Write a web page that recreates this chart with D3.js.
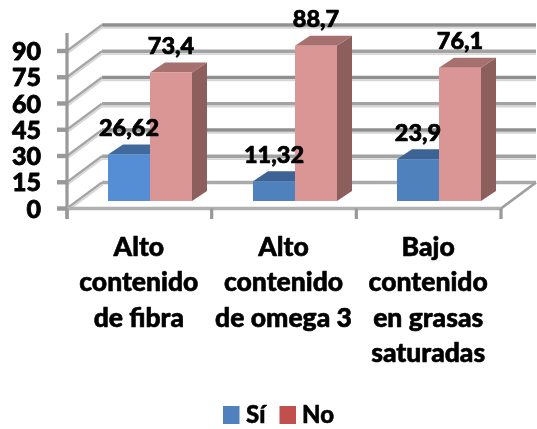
<!DOCTYPE html>
<html><head><meta charset="utf-8">
<style>html,body{margin:0;background:#fff}svg{display:block}text{stroke:#000;stroke-linejoin:round}</style>
<script src="https://cdn.jsdelivr.net/npm/d3@7"></script>
</head><body>
<script>
const categories = [["Alto","contenido","de fibra"],["Alto","contenido","de omega 3"],["Bajo","contenido","en grasas","saturadas"]];
const seriesNames = ["Sí","No"];
const siValues = [26.62,11.32,23.9];
const noValues = [73.4,88.7,76.1];
const valueLabels = [["26,62","73,4"],["11,32","88,7"],["23,9","76,1"]];
const yTicks = [0,15,30,45,60,75,90];

const W=537,H=429;
const svg=d3.select("body").append("svg").attr("width",W).attr("height",H);
const defs=svg.append("defs");
defs.append("filter").attr("id","b").attr("x","-5%").attr("y","-5%").attr("width","110%").attr("height","110%")
  .append("feGaussianBlur").attr("stdDeviation",0.7);
const root=svg.append("g").attr("filter","url(#b)");
const font="Lato, 'Open Sans', sans-serif";

const y=d3.scaleLinear().domain([0,90]).range([208.5,51]);
const x0=d3.scaleBand().domain([0,1,2]).range([67,501]);
const dx=35,dy=-26;
const bx=15,by=-10;
const yb=d3.scaleLinear().domain([0,90]).range([201,201-157.5]);
const barW=42;

const grid=root.append("g");
yTicks.forEach((t,i)=>{
  const c=(i%2===0)?"#8f8f8f":"#a2a2a2";
  if(t>0){
    grid.append("line").attr("x1",67+dx).attr("x2",501+dx).attr("y1",y(t)+dy).attr("y2",y(t)+dy)
      .attr("stroke",c).attr("stroke-width",3.6);
    grid.append("line").attr("x1",67+dx).attr("x2",501+dx).attr("y1",y(t)+dy+2.8).attr("y2",y(t)+dy+2.8)
      .attr("stroke","#d6d6d6").attr("stroke-width",1.8);
  }
  grid.append("line").attr("x1",67).attr("x2",67+dx).attr("y1",y(t)).attr("y2",y(t)+dy)
    .attr("stroke","#a6a6a6").attr("stroke-width",2.8);
  grid.append("line").attr("x1",68).attr("x2",68+dx).attr("y1",y(t)+2).attr("y2",y(t)+dy+2)
    .attr("stroke","#d8d8d8").attr("stroke-width",1.8);
});
grid.append("line").attr("x1",67+dx).attr("x2",501+dx).attr("y1",y(0)+dy).attr("y2",y(0)+dy)
  .attr("stroke","#aaaaaa").attr("stroke-width",3.4);
grid.append("line").attr("x1",501).attr("x2",501+dx).attr("y1",y(0)).attr("y2",y(0)+dy)
  .attr("stroke","#a0a0a0").attr("stroke-width",2.8);

const ax=root.append("g").attr("stroke","#999999").attr("fill","none");
ax.append("line").attr("x1",67).attr("x2",67).attr("y1",33).attr("y2",219).attr("stroke-width",3.2);
ax.append("line").attr("x1",67).attr("x2",501).attr("y1",y(0)).attr("y2",y(0)).attr("stroke-width",3.4).attr("stroke","#b0b0b0");
yTicks.forEach(t=>ax.append("line").attr("x1",57).attr("x2",67).attr("y1",y(t)).attr("y2",y(t)).attr("stroke-width",4.4));
[0,1,2,3].forEach(i=>{
  const px=67+i*x0.bandwidth();
  ax.append("line").attr("x1",px).attr("x2",px).attr("y1",y(0)).attr("y2",219).attr("stroke-width",3.2);
});

const pal=[{f:"#558ed5",t:"#40699c",s:"#3b6290"},{f:"#d99694",t:"#a66f6e",s:"#8c5e5d"}];
const palMid={f:"#4f81bd",t:"#3c6494",s:"#3b6290"};
const groupStart=[108,253,397];
const bars=root.append("g");
[siValues,noValues].forEach((vals,si)=>{
  vals.forEach((v,i)=>{
    const p=(si===0&&i>0)?palMid:pal[si];
    const xl=groupStart[i]+si*barW, xr=xl+barW, top=yb(v), bot=yb(0);
    bars.append("polygon").attr("fill",p.s)
      .attr("points",[[xr,top],[xr+bx,top+by],[xr+bx,bot+by],[xr,bot]].join(" "));
    bars.append("polygon").attr("fill",p.t)
      .attr("points",[[xl,top],[xl+bx,top+by],[xr+bx,top+by],[xr,top]].join(" "));
    bars.append("rect").attr("x",xl).attr("y",top).attr("width",barW).attr("height",bot-top).attr("fill",p.f);
  });
});

[siValues,noValues].forEach((vals,si)=>{
  vals.forEach((v,i)=>{
    root.append("text").attr("x",groupStart[i]+si*barW+barW/2).attr("y",yb(v)-18.5)
      .attr("text-anchor","middle").attr("font-family",font).attr("font-weight",900)
      .attr("font-size",23.5).attr("stroke-width",0.7).attr("fill","#000").text(valueLabels[i][si]);
  });
});

yTicks.forEach(t=>root.append("text").attr("x",41).attr("y",y(t)+9).attr("text-anchor","end")
  .attr("font-family",font).attr("font-weight",900).attr("font-size",25).attr("stroke-width",0.8).attr("fill","#000").text(t));

categories.forEach((ls,i)=>{
  ls.forEach((l,j)=>root.append("text").attr("x",x0(i)+x0.bandwidth()/2-0.5).attr("y",256+j*35.4)
    .attr("text-anchor","middle").attr("font-family",font).attr("font-weight",900)
    .attr("font-size",26.5).attr("stroke-width",0.6).attr("fill","#000").text(l));
});

const legendX=[223,279.5], legendTX=[246,302], legendC=["#4f81bd","#c0504d"];
seriesNames.forEach((n,i)=>{
  root.append("rect").attr("x",legendX[i]).attr("y",406).attr("width",16.5).attr("height",18).attr("fill",legendC[i]).attr("stroke","none");
  root.append("text").attr("x",legendTX[i]).attr("y",423).attr("font-family",font).attr("font-weight",900)
    .attr("font-size",24).attr("stroke-width",0.5).attr("fill","#000").text(n);
});
</script>
</body></html>
